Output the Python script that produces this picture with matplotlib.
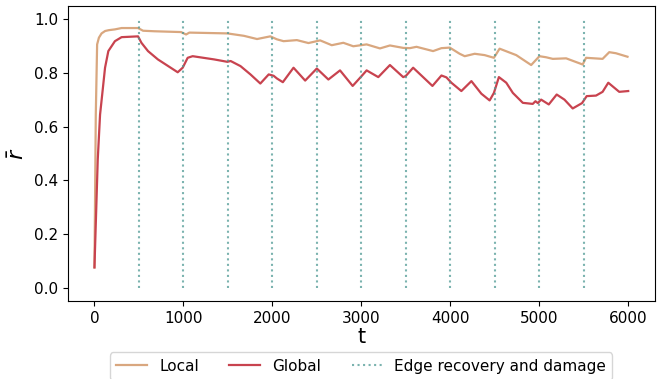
import numpy as np
import matplotlib.pyplot as plt

# order parameter traces (read at irregular times)
t_local = [0, 15, 30, 50, 80, 120, 160, 230, 305, 490, 546, 674, 973, 1030, 1067,
           1494, 1680, 1828, 1977, 2051, 2126, 2276, 2406, 2537, 2668, 2798, 2910,
           3060, 3210, 3322, 3471, 3546, 3621, 3807, 3901, 3995, 4106, 4163, 4275,
           4387, 4491, 4555, 4742, 4910, 5003, 5078, 5153, 5303, 5489, 5527, 5713,
           5788, 5863, 5993]
r_local = [0.075, 0.645, 0.907, 0.932, 0.948, 0.957, 0.960, 0.963, 0.968, 0.968,
           0.958, 0.956, 0.953, 0.944, 0.951, 0.948, 0.939, 0.927, 0.937, 0.926,
           0.919, 0.923, 0.912, 0.922, 0.904, 0.913, 0.900, 0.907, 0.892, 0.903,
           0.894, 0.893, 0.898, 0.882, 0.893, 0.895, 0.872, 0.863, 0.872, 0.867,
           0.857, 0.891, 0.867, 0.830, 0.863, 0.859, 0.853, 0.855, 0.832, 0.857,
           0.853, 0.878, 0.874, 0.861]

t_global = [0, 37, 63, 89, 119, 156, 230, 305, 490, 528, 602, 713, 936, 992, 1048,
            1104, 1345, 1494, 1531, 1642, 1754, 1865, 1959, 2014, 2051, 2118, 2238,
            2369, 2500, 2630, 2761, 2903, 3004, 3060, 3191, 3322, 3471, 3500, 3583,
            3800, 3901, 3957, 4013, 4125, 4238, 4350, 4443, 4491, 4547, 4630, 4704,
            4816, 4928, 4958, 4985, 5022, 5108, 5197, 5284, 5377, 5482, 5534, 5639,
            5713, 5777, 5900, 6001]
r_global = [0.075, 0.478, 0.645, 0.726, 0.820, 0.882, 0.919, 0.934, 0.937, 0.913,
            0.882, 0.851, 0.803, 0.820, 0.857, 0.863, 0.851, 0.842, 0.845, 0.826,
            0.795, 0.761, 0.795, 0.790, 0.780, 0.766, 0.820, 0.772, 0.817, 0.776,
            0.810, 0.752, 0.789, 0.810, 0.785, 0.830, 0.785, 0.789, 0.820, 0.752,
            0.791, 0.784, 0.764, 0.733, 0.770, 0.723, 0.698, 0.726, 0.785, 0.764,
            0.726, 0.689, 0.685, 0.695, 0.688, 0.701, 0.683, 0.720, 0.701, 0.668,
            0.688, 0.714, 0.716, 0.730, 0.764, 0.730, 0.733]

events = np.arange(500, 6000, 500)

fig, ax = plt.subplots(figsize=(6.71, 3.79), dpi=100)
fig.subplots_adjust(left=0.101, right=0.976, top=0.984, bottom=0.206)

ax.plot(t_local, r_local, color='#d9a77f', lw=1.6, label='Local')
ax.plot(t_global, r_global, color='#c8434f', lw=1.6, label='Global')
ax.vlines(events, 0, 1, colors='#4f9a94', linestyles=':', lw=1.5, alpha=0.75,
          label='Edge recovery and damage')

ax.set_xticks(np.arange(0, 6001, 1000))
ax.set_yticks(np.arange(0, 1.01, 0.2))
ax.tick_params(labelsize=11)
ax.set_xlabel('t', fontsize=15, labelpad=1)
ax.set_ylabel(r'$\bar{r}$', fontsize=16)

# legend sits under the axes, partly past the lower edge of the figure
ax.legend(loc='upper center', bbox_to_anchor=(0.5, -0.149), ncol=3, fontsize=11,
          frameon=True)

fig.savefig('out.png', dpi=100)
